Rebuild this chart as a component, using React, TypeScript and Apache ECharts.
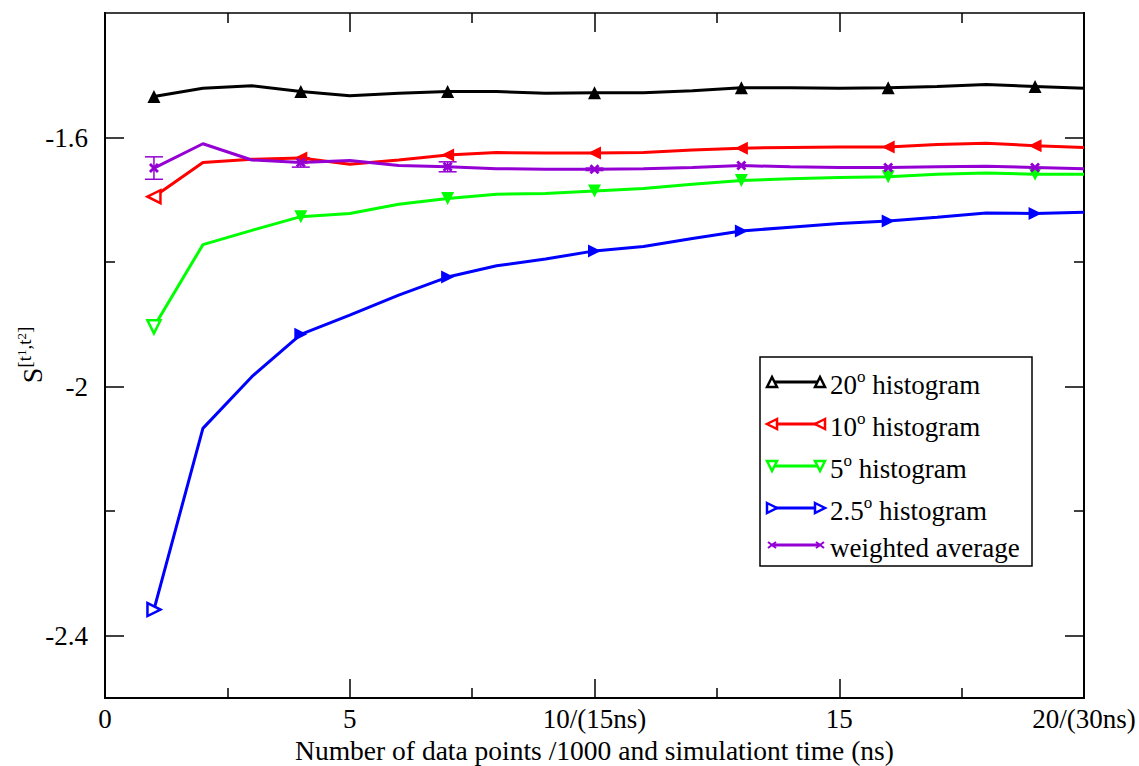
import React, { useEffect, useRef } from "react";
import * as echarts from "echarts";

const xValues = [1, 2, 3, 4, 5, 6, 7, 8, 9, 10, 11, 12, 13, 14, 15, 16, 17, 18, 19, 20];
const hist20 = [-1.534, -1.521, -1.517, -1.526, -1.533, -1.529, -1.526, -1.526, -1.529, -1.528, -1.528, -1.525, -1.520, -1.520, -1.521, -1.520, -1.518, -1.515, -1.518, -1.521];
const hist10 = [-1.695, -1.640, -1.635, -1.633, -1.643, -1.636, -1.628, -1.624, -1.625, -1.625, -1.624, -1.620, -1.617, -1.616, -1.615, -1.615, -1.611, -1.609, -1.613, -1.616];
const hist5 = [-1.904, -1.772, -1.749, -1.727, -1.722, -1.707, -1.698, -1.691, -1.690, -1.686, -1.682, -1.675, -1.669, -1.666, -1.664, -1.663, -1.659, -1.657, -1.659, -1.659];
const hist25 = [-2.358, -2.067, -1.984, -1.916, -1.885, -1.853, -1.824, -1.806, -1.795, -1.782, -1.775, -1.762, -1.750, -1.744, -1.738, -1.734, -1.728, -1.721, -1.722, -1.720];
const weighted = [-1.649, -1.610, -1.636, -1.640, -1.637, -1.645, -1.647, -1.650, -1.651, -1.651, -1.650, -1.648, -1.645, -1.647, -1.648, -1.648, -1.647, -1.646, -1.648, -1.650];
const errX = [1, 4, 7, 10];
const errSize = [0.018, 0.0075, 0.008, 0.002];

const xTickLabels: Record<number, string> = { 0: "0", 5: "5", 10: "10/(15ns)", 15: "15", 20: "20/(30ns)" };
const yMajorTicks = [-2.4, -2, -1.6];
const yMinorTicks = [-2.2, -1.8];

const FONT = "'Liberation Serif', 'Times New Roman', serif";
const XMARK = "path://M0,2 L2,0 L5,3 L8,0 L10,2 L7,5 L10,8 L8,10 L5,7 L2,10 L0,8 L3,5 Z";

const seriesDefs = [
  { name: "20° histogram", data: hist20, color: "#000000", symbol: "triangle", rotate: 0, deg: "20", hollowFirst: false },
  { name: "10° histogram", data: hist10, color: "#ff0000", symbol: "triangle", rotate: 90, deg: "10", hollowFirst: true },
  { name: "5° histogram", data: hist5, color: "#00ff00", symbol: "triangle", rotate: 180, deg: "5", hollowFirst: true },
  { name: "2.5° histogram", data: hist25, color: "#0000ff", symbol: "triangle", rotate: -90, deg: "2.5", hollowFirst: true },
  { name: "weighted average", data: weighted, color: "#9400d3", symbol: XMARK, rotate: 0, deg: "", hollowFirst: false },
];

function triPoints(cx: number, cy: number, dir: number, s: number): number[][] {
  const h = s / 2;
  if (dir === 0) return [[cx - h, cy + h], [cx, cy - h], [cx + h, cy + h]];
  if (dir === 180) return [[cx - h, cy - h], [cx, cy + h], [cx + h, cy - h]];
  if (dir === 90) return [[cx + h, cy - h], [cx - h, cy], [cx + h, cy + h]];
  return [[cx - h, cy - h], [cx + h, cy], [cx - h, cy + h]];
}

function buildLegend() {
  const left = 760, top = 357, w = 272, h = 209;
  const rows = [382, 424, 466, 508, 545];
  const children: any[] = [
    { type: "rect", shape: { x: left, y: top, width: w, height: h }, style: { fill: "#fff", stroke: "#000", lineWidth: 1.5 } },
  ];
  seriesDefs.forEach((s, i) => {
    const y = rows[i];
    const x1 = 772, x2 = 820;
    children.push({ type: "line", shape: { x1, y1: y, x2, y2: y }, style: { stroke: s.color, lineWidth: 3 } });
    [x1, x2].forEach((mx) => {
      if (s.symbol === "triangle") {
        children.push({ type: "polygon", shape: { points: triPoints(mx, y, s.rotate, 10) }, style: { fill: "#fff", stroke: s.color, lineWidth: 2.5 } });
      } else {
        children.push({ type: "line", shape: { x1: mx - 4, y1: y - 3, x2: mx + 4, y2: y + 3 }, style: { stroke: s.color, lineWidth: 2 } });
        children.push({ type: "line", shape: { x1: mx - 4, y1: y + 3, x2: mx + 4, y2: y - 3 }, style: { stroke: s.color, lineWidth: 2 } });
      }
    });
    const text = s.deg ? `{n|${s.deg}}{sup|o}{n| histogram}` : `{n|weighted average}`;
    children.push({
      type: "text",
      x: 830,
      y: y + 1,
      style: {
        text,
        fill: "#000",
        verticalAlign: "middle",
        align: "left",
        rich: {
          n: { fontFamily: FONT, fontSize: 27, lineHeight: 31, verticalAlign: "bottom", fill: "#000" },
          sup: { fontFamily: FONT, fontSize: 17, lineHeight: 17, verticalAlign: "top", fill: "#000" },
        },
      },
    });
  });
  return { type: "group", children };
}

function buildYName() {
  return {
    type: "text",
    x: 46,
    y: 355,
    rotation: Math.PI / 2,
    style: {
      text: "{s|S}{sup|[t}{sub|1}{sup|,t}{sub|2}{sup|]}",
      align: "center",
      verticalAlign: "bottom",
      fill: "#000",
      rich: {
        s: { fontFamily: FONT, fontSize: 28, lineHeight: 30, verticalAlign: "bottom", fill: "#000" },
        sup: { fontFamily: FONT, fontSize: 19, lineHeight: 19, verticalAlign: "top", fill: "#000" },
        sub: { fontFamily: FONT, fontSize: 13, lineHeight: 31, verticalAlign: "top", fill: "#000" },
      },
    },
  };
}

export default function App() {
  const ref = useRef<HTMLDivElement>(null);
  useEffect(() => {
    if (!ref.current) return;
    const chart = echarts.init(ref.current, undefined, { renderer: "svg" });
    const axisFont = { fontFamily: FONT, fontSize: 27, color: "#000" };
    const yBase = { type: "value", min: -2.5, max: -1.4, splitLine: { show: false }, axisLine: { show: true, lineStyle: { color: "#000", width: 2 } } };
    const xBase = { type: "value", min: 0, max: 20, interval: 5, splitLine: { show: false }, axisLine: { show: true, lineStyle: { color: "#000", width: 2 } } };

    const lineSeries = seriesDefs.map((s, si) => ({
      type: "line",
      name: s.name,
      xAxisIndex: 0,
      yAxisIndex: 0,
      data: xValues.map((x, i) => {
        const item: any = { value: [x, s.data[i]] };
        if (i === 0 && s.hollowFirst) {
          item.itemStyle = { color: "#fff", borderColor: s.color, borderWidth: 2.5 };
        }
        return item;
      }),
      symbol: s.symbol,
      symbolRotate: s.rotate,
      symbolSize: (_v: any, p: any) => (p.dataIndex % 3 === 0 ? (s.symbol === "triangle" ? 13 : 10) : 0),
      showSymbol: true,
      showAllSymbol: true,
      lineStyle: { color: s.color, width: 3 },
      itemStyle: { color: s.color },
      z: 3 + si,
      silent: true,
    }));

    const errData = errX.map((x, i) => [x, weighted[xValues.indexOf(x)], errSize[i]]);

    chart.setOption({
      animation: false,
      backgroundColor: "#fff",
      grid: { left: 105, right: 55, top: 13, bottom: 68, containLabel: false, outerBoundsMode: "none" },
      xAxis: [
        {
          ...xBase,
          position: "bottom",
          axisTick: { show: true, inside: true, length: 19, lineStyle: { color: "#000", width: 1.5 } },
          minorTick: { show: true, splitNumber: 2, length: 10, lineStyle: { color: "#000", width: 1.5 } },
          axisLabel: { ...axisFont, margin: 7, formatter: (v: number) => xTickLabels[v] ?? "" },
          name: "Number of data points /1000 and simulationt time (ns)",
          nameLocation: "middle",
          nameGap: 35,
          nameTextStyle: { fontFamily: FONT, fontSize: 27.5, color: "#000" },
        },
        {
          ...xBase,
          position: "top",
          axisLine: { show: true, lineStyle: { color: "#000", width: 1.5 } },
          axisTick: { show: true, inside: true, length: 19, lineStyle: { color: "#000", width: 1.5 } },
          minorTick: { show: true, splitNumber: 2, length: 10, lineStyle: { color: "#000", width: 1.5 } },
          axisLabel: { show: false },
        },
      ],
      yAxis: [
        {
          ...yBase,
          position: "left",
          axisTick: { show: true, inside: true, length: 19, customValues: yMajorTicks, lineStyle: { color: "#000", width: 1.5 } },
          axisLabel: { ...axisFont, margin: 17, customValues: yMajorTicks, formatter: (v: number) => String(Math.round(v * 10) / 10) },
        },
        {
          ...yBase,
          position: "left",
          axisTick: { show: true, inside: true, length: 10, customValues: yMinorTicks, lineStyle: { color: "#000", width: 1.5 } },
          axisLabel: { show: false },
        },
        {
          ...yBase,
          position: "right",
          axisTick: { show: true, inside: true, length: 19, customValues: yMajorTicks, lineStyle: { color: "#000", width: 1.5 } },
          axisLabel: { show: false },
        },
        {
          ...yBase,
          position: "right",
          axisTick: { show: true, inside: true, length: 10, customValues: yMinorTicks, lineStyle: { color: "#000", width: 1.5 } },
          axisLabel: { show: false },
        },
      ],
      series: [
        {
          type: "custom",
          name: "error",
          xAxisIndex: 0,
          yAxisIndex: 0,
          z: 2,
          silent: true,
          data: errData,
          renderItem: (_params: any, api: any) => {
            const x = api.value(0), y = api.value(1), e = api.value(2);
            const t = api.coord([x, y + e]);
            const b = api.coord([x, y - e]);
            const hw = 9;
            const st = { stroke: "#9400d3", lineWidth: 1.5 };
            return {
              type: "group",
              children: [
                { type: "line", shape: { x1: t[0], y1: t[1], x2: b[0], y2: b[1] }, style: st },
                { type: "line", shape: { x1: t[0] - hw, y1: t[1], x2: t[0] + hw, y2: t[1] }, style: st },
                { type: "line", shape: { x1: b[0] - hw, y1: b[1], x2: b[0] + hw, y2: b[1] }, style: st },
              ],
            };
          },
        },
        ...lineSeries,
      ],
      graphic: [buildLegend(), buildYName()],
    });
    return () => chart.dispose();
  }, []);
  return <div ref={ref} style={{ position: "fixed", left: 0, top: 0, width: 1139, height: 766, background: "#fff" }} />;
}
